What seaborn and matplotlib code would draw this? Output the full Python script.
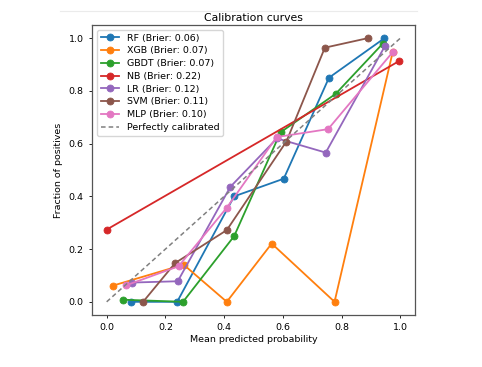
import matplotlib
matplotlib.use("Agg")
import matplotlib.pyplot as plt
from matplotlib.lines import Line2D
import seaborn as sns
import pandas as pd

# ---- data ----
models = ["RF", "XGB", "GBDT", "NB", "LR", "SVM", "MLP"]
brier = [0.06, 0.07, 0.07, 0.22, 0.12, 0.11, 0.10]

rf_x = [0.084, 0.240, 0.434, 0.603, 0.757, 0.946]
rf_y = [0.000, 0.000, 0.400, 0.467, 0.850, 1.000]

xgb_x = [0.020, 0.262, 0.409, 0.562, 0.776, 0.974]
xgb_y = [0.061, 0.141, 0.000, 0.221, 0.000, 0.947]

gbdt_x = [0.055, 0.260, 0.434, 0.592, 0.780, 0.940]
gbdt_y = [0.008, 0.000, 0.249, 0.643, 0.789, 0.979]

nb_x = [0.000, 0.997]
nb_y = [0.274, 0.914]

lr_x = [0.085, 0.242, 0.421, 0.580, 0.746, 0.948]
lr_y = [0.073, 0.078, 0.436, 0.620, 0.566, 0.971]

svm_x = [0.124, 0.233, 0.409, 0.612, 0.743, 0.889]
svm_y = [0.000, 0.147, 0.272, 0.608, 0.964, 1.000]

mlp_x = [0.065, 0.245, 0.409, 0.579, 0.754, 0.974]
mlp_y = [0.062, 0.135, 0.357, 0.625, 0.655, 0.947]

xs = [rf_x, xgb_x, gbdt_x, nb_x, lr_x, svm_x, mlp_x]
ys = [rf_y, xgb_y, gbdt_y, nb_y, lr_y, svm_y, mlp_y]

diag = [0.0, 1.0]

colors = sns.color_palette("tab10", len(models))

plt.rcParams["font.family"] = ["DejaVu Sans"]
plt.rcParams["font.size"] = 7

fig = plt.figure(figsize=(4.82, 3.67), dpi=100)
ax = fig.add_axes([92 / 482, 1 - 315 / 367, 323 / 482, 290 / 367])

for name, b, x, y, c in zip(models, brier, xs, ys, colors):
    df = pd.DataFrame({"x": x, "y": y})
    sns.lineplot(data=df, x="x", y="y", ax=ax, color=c, marker="o",
                 markersize=5, markeredgecolor=c, markeredgewidth=0.6,
                 linewidth=1.3, sort=False, estimator=None,
                 label=f"{name} (Brier: {b:.2f})")

ax.plot(diag, diag, linestyle="--", color="gray", linewidth=1.1,
        dashes=(3, 2), label="Perfectly calibrated")

ax.set_title("Calibration curves", fontsize=7.8, pad=3)
ax.set_xlabel("Mean predicted probability", fontsize=6.8, labelpad=2)
ax.set_ylabel("Fraction of positives", fontsize=6.8, labelpad=4)
ax.set_xticks([0.0, 0.2, 0.4, 0.6, 0.8, 1.0])
ax.set_yticks([0.0, 0.2, 0.4, 0.6, 0.8, 1.0])
ax.tick_params(labelsize=6.8, length=2.5, width=0.6)
for s in ax.spines.values():
    s.set_linewidth(0.9)
    s.set_color("#555555")

ax.legend(loc="upper left", fontsize=6.8, handlelength=2.0,
          borderpad=0.4, labelspacing=0.4, framealpha=0.8)

fig.add_artist(Line2D([60 / 482, 417 / 482], [1 - 10.7 / 367, 1 - 10.7 / 367],
                      color="#ebebeb", linewidth=0.8))

fig.savefig("out.png", dpi=100)
